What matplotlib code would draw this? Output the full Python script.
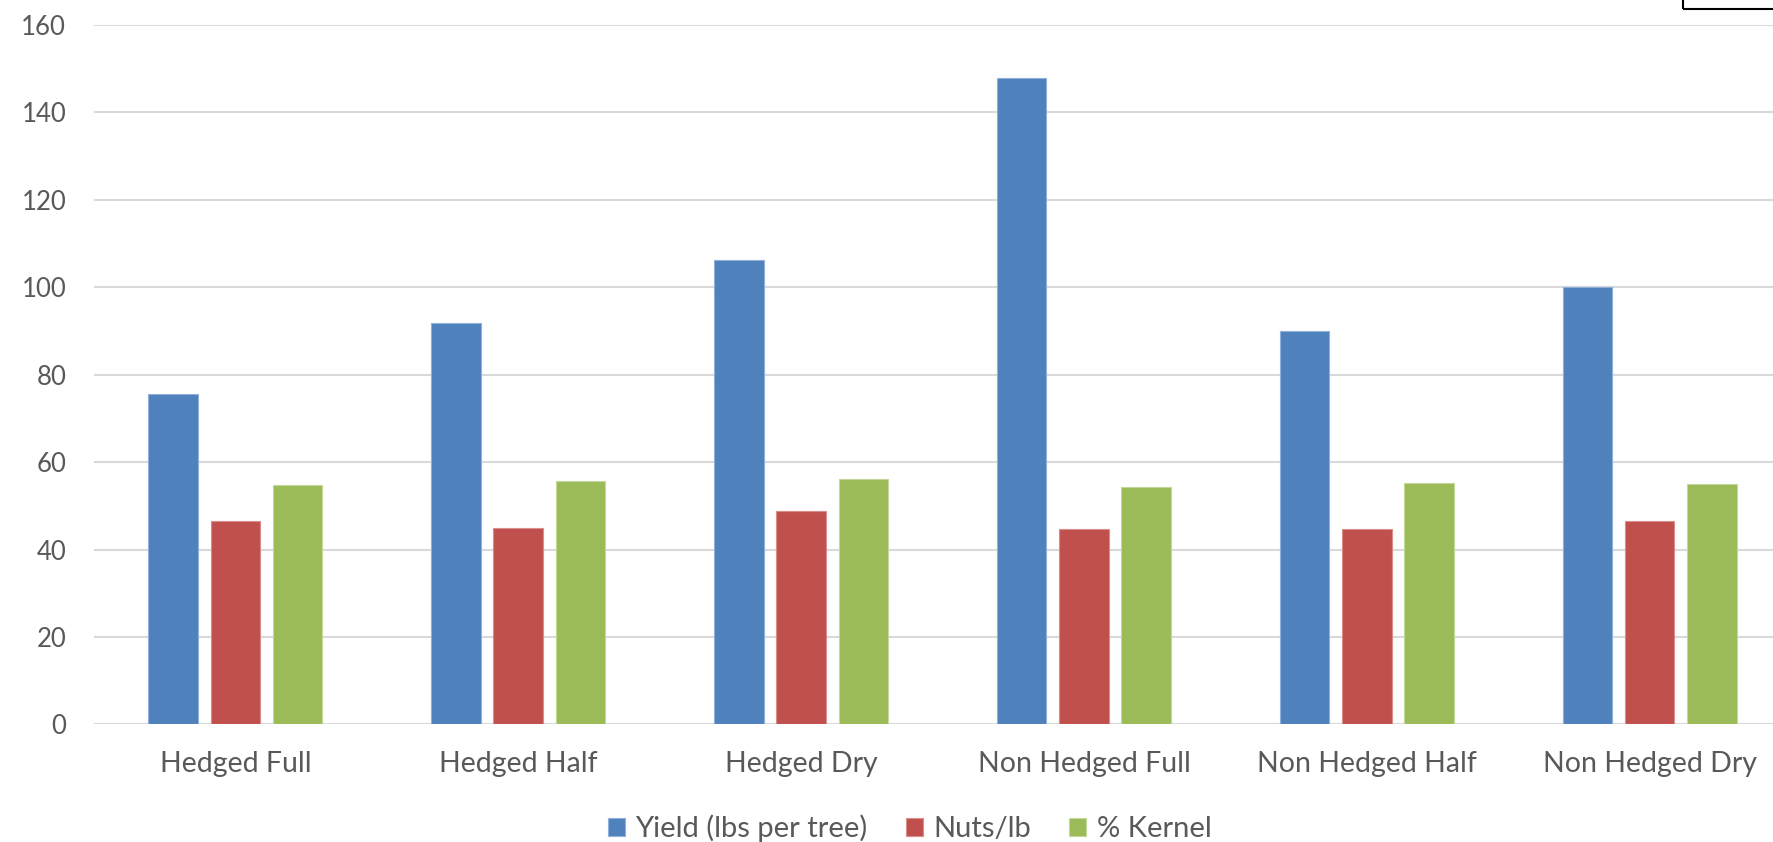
import matplotlib.pyplot as plt
import numpy as np
from matplotlib.patches import Rectangle

categories = ["Hedged Full", "Hedged Half", "Hedged Dry",
              "Non Hedged Full", "Non Hedged Half", "Non Hedged Dry"]
yield_lbs = [75.5, 91.8, 106.2, 147.9, 89.9, 100.0]
nuts_per_lb = [46.6, 45.0, 48.8, 44.7, 44.7, 46.5]
pct_kernel = [54.7, 55.6, 56.1, 54.3, 55.3, 55.1]

series = [
    ("Yield (lbs per tree)", yield_lbs, "#4F81BD", "#8FB0DA"),
    ("Nuts/lb", nuts_per_lb, "#C0504D", "#DA8E8C"),
    ("% Kernel", pct_kernel, "#9BBB59", "#C4D89B"),
]

plt.rcParams['font.family'] = ['Lato', 'DejaVu Sans']

fig = plt.figure(figsize=(17.73, 8.42), dpi=100)
ax = fig.add_axes([0.053, 0.1396, 0.9572, 0.8309])

x = np.arange(len(categories))
width = 0.175
offsets = [-0.22, 0.0, 0.22]
for (name, vals, color, edge), off in zip(series, offsets):
    ax.bar(x + off, vals, width, color=color, edgecolor=edge,
           linewidth=0.8, label=name, zorder=3)

ax.set_xlim(-0.5, 5.5)
ax.set_ylim(0, 160)
ax.set_yticks(range(0, 161, 20))
ax.set_xticks(x)
ax.set_xticklabels(categories)
ax.grid(axis='y', color='#D9D9D9', linewidth=1.5, zorder=0)
for s in ax.spines.values():
    s.set_visible(False)
ax.tick_params(axis='both', length=0, labelcolor='#595959')
ax.tick_params(axis='y', labelsize=18.5, pad=20)
ax.tick_params(axis='x', labelsize=20.5, pad=19)

fig.legend(loc='center', bbox_to_anchor=(0.513, 0.016), ncol=3,
           frameon=False, fontsize=21, labelcolor='#595959',
           handlelength=0.6, handleheight=0.6, handletextpad=0.35,
           columnspacing=1.3)

# corner of a text box poking in at the top right
fig.patches.append(Rectangle((1683 / 1773, 833 / 842), 0.2, 0.1,
                             transform=fig.transFigure, fill=False,
                             edgecolor='black', linewidth=1.5))

fig.savefig("out.png", dpi=100)
